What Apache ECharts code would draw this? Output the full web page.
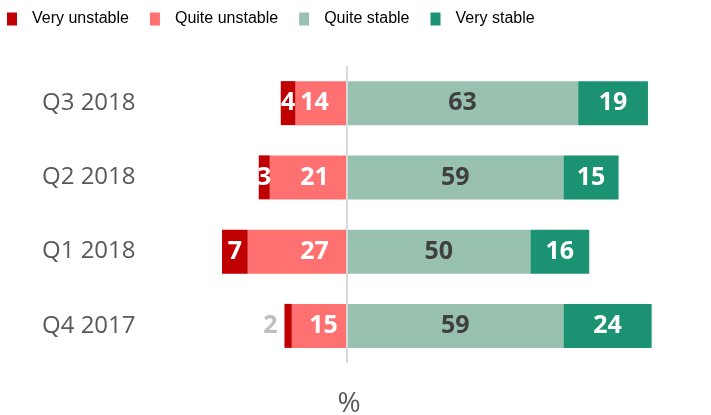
<!DOCTYPE html>
<html>
<head>
<meta charset="utf-8">
<script src="https://cdn.jsdelivr.net/npm/echarts@6/dist/echarts.min.js"></script>
<style>html,body{margin:0;padding:0;background:#fff}#c{width:711px;height:415px}</style>
</head>
<body>
<div id="c"></div>
<script>
const categories = ['Q3 2018', 'Q2 2018', 'Q1 2018', 'Q4 2017'];
const veryUnstable = [4, 3, 7, 2];
const quiteUnstable = [14, 21, 27, 15];
const quiteStable = [63, 59, 50, 59];
const veryStable = [19, 15, 16, 24];

const chart = echarts.init(document.getElementById('c'));
const labelFont = { fontFamily: 'Open Sans', fontWeight: 'bold', fontSize: 25 };
const absFmt = p => Math.abs(p.value);

const vuData = veryUnstable.map((v, i) => {
  const item = { value: -v };
  if (i === 3) item.label = { position: 'left', distance: 7, color: '#bfbfbf' };
  return item;
});
const quData = quiteUnstable.map((v, i) => {
  const item = { value: -v };
  if (i === 3) item.label = { distance: 9 };
  return item;
});

chart.setOption({
  animation: false,
  legend: {
    data: ['Very unstable', 'Quite unstable', 'Quite stable', 'Very stable'],
    left: 7, top: 11, padding: 0,
    itemWidth: 10, itemHeight: 13, itemGap: 21,
    icon: 'rect',
    textStyle: { fontFamily: 'Liberation Sans', fontSize: 16, color: '#000', padding: [3, 0, 0, 10] }
  },
  grid: { left: 200, right: 15.3, top: 66, height: 297 },
  xAxis: { type: 'value', min: -40, max: 95, show: false },
  yAxis: {
    type: 'category', data: categories, inverse: true,
    axisLine: { show: false }, axisTick: { show: false },
    axisLabel: { align: 'left', margin: 158, fontFamily: 'Open Sans', fontSize: 24, color: '#595959' }
  },
  graphic: [{
    type: 'text', x: 349, y: 404,
    style: { text: '%', fontFamily: 'Open Sans', fontSize: 28, fill: '#595959', align: 'center', verticalAlign: 'middle' }
  }],
  series: [
    {
      name: 'Quite unstable', type: 'bar', stack: 'a', barWidth: 44,
      itemStyle: { color: '#ff7070' }, data: quData,
      label: Object.assign({ show: true, position: 'insideRight', distance: 18, color: '#fff', formatter: absFmt }, labelFont),
      markLine: {
        silent: true, symbol: 'none', label: { show: false },
        lineStyle: { color: '#d9d9d9', width: 2, type: 'solid' },
        data: [{ xAxis: 0 }]
      }
    },
    {
      name: 'Very unstable', type: 'bar', stack: 'a', barWidth: 44,
      itemStyle: { color: '#c00000' }, data: vuData,
      label: Object.assign({ show: true, position: 'inside', color: '#fff', formatter: absFmt }, labelFont)
    },
    {
      name: 'Quite stable', type: 'bar', stack: 'a', barWidth: 44,
      itemStyle: { color: '#98c1b0' }, data: quiteStable,
      label: Object.assign({ show: true, position: 'inside', color: '#404040', formatter: absFmt }, labelFont)
    },
    {
      name: 'Very stable', type: 'bar', stack: 'a', barWidth: 44,
      itemStyle: { color: '#1b9272' }, data: veryStable,
      label: Object.assign({ show: true, position: 'inside', color: '#fff', formatter: absFmt }, labelFont)
    }
  ]
});
</script>
</body>
</html>
